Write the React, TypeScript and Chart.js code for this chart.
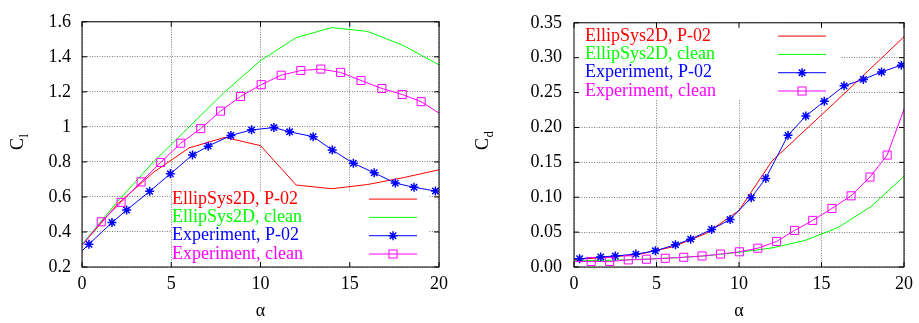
import React, { useEffect, useRef } from "react";
import { Chart, registerables } from "chart.js";

Chart.register(...registerables);

const FONT_FAMILY = "'Liberation Serif', 'Times New Roman', serif";

// ---------- shared x axis ----------
const alphaTicks = [0, 5, 10, 15, 20];

// ---------- Lift coefficient (left) ----------
const clTickValues = [0.2, 0.4, 0.6, 0.8, 1.0, 1.2, 1.4, 1.6];
const clTickLabels = ["0.2", "0.4", "0.6", "0.8", "1", "1.2", "1.4", "1.6"];

const simAlpha = [0, 2, 4, 6, 8, 10, 12, 14, 16, 18, 20];
const clSimP02 = [0.325, 0.56, 0.74, 0.88, 0.94, 0.893, 0.668, 0.647, 0.671, 0.71, 0.755];
const clSimClean = [0.33, 0.575, 0.8, 1.0, 1.2, 1.378, 1.51, 1.567, 1.545, 1.465, 1.354];

const clExpP02Alpha = [-1.0, 0.39, 1.68, 2.5, 3.79, 4.95, 6.19, 7.07, 8.34, 9.5, 10.75, 11.63, 12.95, 14.02, 15.2, 16.37, 17.55, 18.6, 19.8];
const clExpP02 = [0.197, 0.33, 0.454, 0.525, 0.632, 0.732, 0.84, 0.89, 0.951, 0.983, 0.996, 0.972, 0.944, 0.868, 0.792, 0.738, 0.679, 0.655, 0.634];

const clExpCleanAlpha = [-0.9, 1.08, 2.19, 3.31, 4.41, 5.53, 6.65, 7.76, 8.88, 10.04, 11.16, 12.26, 13.38, 14.49, 15.63, 16.8, 17.94, 19.0, 20.5];
const clExpClean = [0.212, 0.458, 0.569, 0.686, 0.797, 0.907, 0.99, 1.09, 1.174, 1.241, 1.295, 1.322, 1.33, 1.311, 1.265, 1.219, 1.185, 1.144, 1.046];

// ---------- Drag coefficient (right) ----------
const cdTickValues = [0, 0.05, 0.1, 0.15, 0.2, 0.25, 0.3, 0.35];
const cdTickLabels = ["0.00", "0.05", "0.10", "0.15", "0.20", "0.25", "0.30", "0.35"];

const cdSimP02 = [0.011, 0.0135, 0.0185, 0.029, 0.048, 0.081, 0.152, 0.196, 0.24, 0.285, 0.33];
const cdSimClean = [0.009, 0.0095, 0.011, 0.013, 0.016, 0.021, 0.0273, 0.038, 0.0565, 0.0866, 0.13];

const cdExpP02Alpha = [-1.0, 0.34, 1.62, 2.5, 3.75, 4.93, 6.15, 7.07, 8.34, 9.46, 10.74, 11.62, 12.97, 14.05, 15.17, 16.37, 17.54, 18.64, 19.84];
const cdExpP02 = [0.0105, 0.012, 0.0144, 0.0158, 0.0185, 0.0232, 0.032, 0.0399, 0.0538, 0.068, 0.0992, 0.127, 0.1887, 0.2165, 0.2374, 0.2596, 0.2689, 0.2796, 0.2893];

const cdExpCleanAlpha = [-1.0, 1.04, 2.16, 3.29, 4.39, 5.53, 6.65, 7.76, 8.88, 10.02, 11.14, 12.28, 13.37, 14.47, 15.63, 16.79, 17.94, 18.98, 20.3];
const cdExpClean = [0.008, 0.0079, 0.0079, 0.0102, 0.0111, 0.0125, 0.0139, 0.0158, 0.0185, 0.0218, 0.0269, 0.0366, 0.0524, 0.0668, 0.0839, 0.102, 0.1289, 0.1604, 0.245];

// ---------- series names / colours ----------
const seriesNames = ["EllipSys2D, P-02", "EllipSys2D, clean", "Experiment, P-02", "Experiment, clean"];
const seriesColors = ["#ff0000", "#00ff00", "#0000ff", "#ff00ff"];
const seriesMarkers = ["none", "none", "star", "rect"];

const pts = (xs: number[], ys: number[]) => xs.map((x, i) => ({ x, y: ys[i] }));

function makeDatasets(simP02: number[], simClean: number[], eP02A: number[], eP02: number[], eCleanA: number[], eClean: number[]) {
  return [
    {
      label: seriesNames[0], data: pts(simAlpha, simP02), borderColor: seriesColors[0],
      borderWidth: 1, pointRadius: 0, order: 4,
    },
    {
      label: seriesNames[1], data: pts(simAlpha, simClean), borderColor: seriesColors[1],
      borderWidth: 1, pointRadius: 0, order: 3,
    },
    {
      label: seriesNames[2], data: pts(eP02A, eP02), borderColor: seriesColors[2],
      borderWidth: 1, pointRadius: 4.5, pointStyle: "star", pointBorderColor: seriesColors[2],
      pointBorderWidth: 1.5, order: 2,
    },
    {
      label: seriesNames[3], data: pts(eCleanA, eClean), borderColor: seriesColors[3],
      borderWidth: 1, pointRadius: 5.7, pointStyle: "rect", pointBorderColor: seriesColors[3],
      pointBackgroundColor: "rgba(0,0,0,0)", pointBorderWidth: 1, order: 1,
    },
  ];
}

function drawMarker(ctx: CanvasRenderingContext2D, kind: string, x: number, y: number) {
  if (kind === "star") {
    const r = 4.5;
    const d = r * Math.SQRT1_2;
    ctx.lineWidth = 1.5;
    ctx.beginPath();
    ctx.moveTo(x - r, y); ctx.lineTo(x + r, y);
    ctx.moveTo(x, y - r); ctx.lineTo(x, y + r);
    ctx.moveTo(x - d, y - d); ctx.lineTo(x + d, y + d);
    ctx.moveTo(x - d, y + d); ctx.lineTo(x + d, y - d);
    ctx.stroke();
  } else if (kind === "rect") {
    const s = 5.7 * Math.SQRT1_2;
    ctx.lineWidth = 1;
    ctx.strokeRect(x - s, y - s, 2 * s, 2 * s);
  }
}

type FrameCfg = {
  box: (a: any) => { x0: number; y0: number; x1: number; y1: number };
  textX: (a: any) => number;
  rowY: (a: any, i: number) => number;
  sample: (a: any) => { x0: number; x1: number };
  yTitle: { bx: number; cy: number; sub: string };
};

function makePlugin(cfg: FrameCfg) {
  return {
    id: "gnuframe",
    beforeDatasetsDraw(chart: any) {
      const ctx = chart.ctx as CanvasRenderingContext2D;
      const a = chart.chartArea;
      const b = cfg.box(a);
      ctx.save();
      ctx.fillStyle = "#ffffff";
      ctx.fillRect(b.x0, b.y0, b.x1 - b.x0, b.y1 - b.y0);
      ctx.restore();
    },
    afterDatasetsDraw(chart: any) {
      const ctx = chart.ctx as CanvasRenderingContext2D;
      const a = chart.chartArea;
      const xs = chart.scales.x;
      const ys = chart.scales.y;
      ctx.save();
      // frame
      ctx.strokeStyle = "#000";
      ctx.lineWidth = 1;
      ctx.strokeRect(a.left, a.top, a.right - a.left, a.bottom - a.top);
      // inward ticks on all sides
      const tl = 5;
      ctx.beginPath();
      xs.ticks.forEach((t: any) => {
        const px = xs.getPixelForValue(t.value);
        ctx.moveTo(px, a.bottom); ctx.lineTo(px, a.bottom - tl);
        ctx.moveTo(px, a.top); ctx.lineTo(px, a.top + tl);
      });
      ys.ticks.forEach((t: any) => {
        const py = ys.getPixelForValue(t.value);
        ctx.moveTo(a.left, py); ctx.lineTo(a.left + tl, py);
        ctx.moveTo(a.right, py); ctx.lineTo(a.right - tl, py);
      });
      ctx.stroke();
      // legend
      ctx.font = `18px ${FONT_FAMILY}`;
      ctx.textBaseline = "middle";
      ctx.textAlign = "left";
      const sm = cfg.sample(a);
      seriesNames.forEach((name, i) => {
        const y = cfg.rowY(a, i);
        ctx.fillStyle = seriesColors[i];
        ctx.fillText(name, cfg.textX(a), y);
        ctx.strokeStyle = seriesColors[i];
        ctx.lineWidth = 1;
        ctx.beginPath();
        ctx.moveTo(sm.x0, y); ctx.lineTo(sm.x1, y);
        ctx.stroke();
        drawMarker(ctx, seriesMarkers[i], (sm.x0 + sm.x1) / 2, y);
      });
      // y title: C with subscript
      const t = cfg.yTitle;
      ctx.translate(t.bx, t.cy);
      ctx.rotate(-Math.PI / 2);
      ctx.fillStyle = "#000";
      ctx.textBaseline = "alphabetic";
      ctx.font = `18px ${FONT_FAMILY}`;
      const w = ctx.measureText("C").width;
      ctx.fillText("C", -w / 2 - 2, 0);
      ctx.font = `13px ${FONT_FAMILY}`;
      ctx.fillText(t.sub, w / 2 - 1.5, 5);
      ctx.restore();
    },
  };
}

function makeOptions(yVals: number[], yLabels: string[], yMin: number, yMax: number, yWidth: number, rightPad: number, yPad: number) {
  const font = { family: FONT_FAMILY, size: 18 };
  const grid = { color: "#7a7a7a", drawTicks: false, lineWidth: 1 };
  const border = { display: false, dash: [1, 1.5] };
  return {
    responsive: false,
    animation: false,
    devicePixelRatio: 1,
    layout: { padding: { top: 16, right: rightPad, left: 0, bottom: 0 } },
    plugins: { legend: { display: false }, tooltip: { enabled: false } },
    scales: {
      x: {
        type: "linear", min: 0, max: 20,
        afterBuildTicks: (s: any) => { s.ticks = alphaTicks.map((v) => ({ value: v })); },
        afterFit: (s: any) => { s.height = 56; },
        grid, border,
        ticks: { font, color: "#000", padding: 6, maxRotation: 0, callback: (v: any) => String(v) },
        title: { display: true, text: "α", font, color: "#000", padding: { top: 0, bottom: 1 } },
      },
      y: {
        type: "linear", min: yMin, max: yMax,
        afterBuildTicks: (s: any) => { s.ticks = yVals.map((v) => ({ value: v })); },
        afterFit: (s: any) => { s.width = yWidth; },
        grid, border,
        ticks: { font, color: "#000", padding: yPad, callback: (_v: any, i: number) => yLabels[i] },
      },
    },
  };
}

export default function App() {
  const leftRef = useRef<HTMLCanvasElement | null>(null);
  const rightRef = useRef<HTMLCanvasElement | null>(null);

  useEffect(() => {
    const leftPlugin = makePlugin({
      box: (a) => ({ x0: a.left + 90, y0: a.bottom - 75, x1: a.right - 11, y1: a.bottom }),
      textX: (a) => a.left + 90,
      rowY: (a, i) => a.bottom - 13 - 18.3 * (3 - i),
      sample: (a) => ({ x0: a.right - 70, x1: a.right - 22 }),
      yTitle: { bx: 23, cy: 142, sub: "l" },
    });
    const rightPlugin = makePlugin({
      box: (a) => ({ x0: a.left, y0: a.top, x1: a.left + 266, y1: a.top + 76 }),
      textX: (a) => a.left + 11,
      rowY: (a, i) => a.top + 13.3 + 18.3 * i,
      sample: (a) => ({ x0: a.right - 126, x1: a.right - 78 }),
      yTitle: { bx: 28, cy: 142, sub: "d" },
    });

    const left = new Chart(leftRef.current as HTMLCanvasElement, {
      type: "line",
      data: { datasets: makeDatasets(clSimP02, clSimClean, clExpP02Alpha, clExpP02, clExpCleanAlpha, clExpClean) as any },
      options: makeOptions(clTickValues, clTickLabels, 0.2, 1.6, 82, 21, 11) as any,
      plugins: [leftPlugin as any],
    });
    const right = new Chart(rightRef.current as HTMLCanvasElement, {
      type: "line",
      data: { datasets: makeDatasets(cdSimP02, cdSimClean, cdExpP02Alpha, cdExpP02, cdExpCleanAlpha, cdExpClean) as any },
      options: makeOptions(cdTickValues, cdTickLabels, 0, 0.35, 114, 11, 12) as any,
      plugins: [rightPlugin as any],
    });
    return () => {
      left.destroy();
      right.destroy();
    };
  }, []);

  return (
    <div style={{ position: "absolute", left: 0, top: 0, width: 919, height: 323, background: "#fff" }}>
      <canvas ref={leftRef} width={460} height={323} style={{ position: "absolute", left: 0, top: 0 }} />
      <canvas ref={rightRef} width={459} height={323} style={{ position: "absolute", left: 460, top: 0 }} />
    </div>
  );
}
